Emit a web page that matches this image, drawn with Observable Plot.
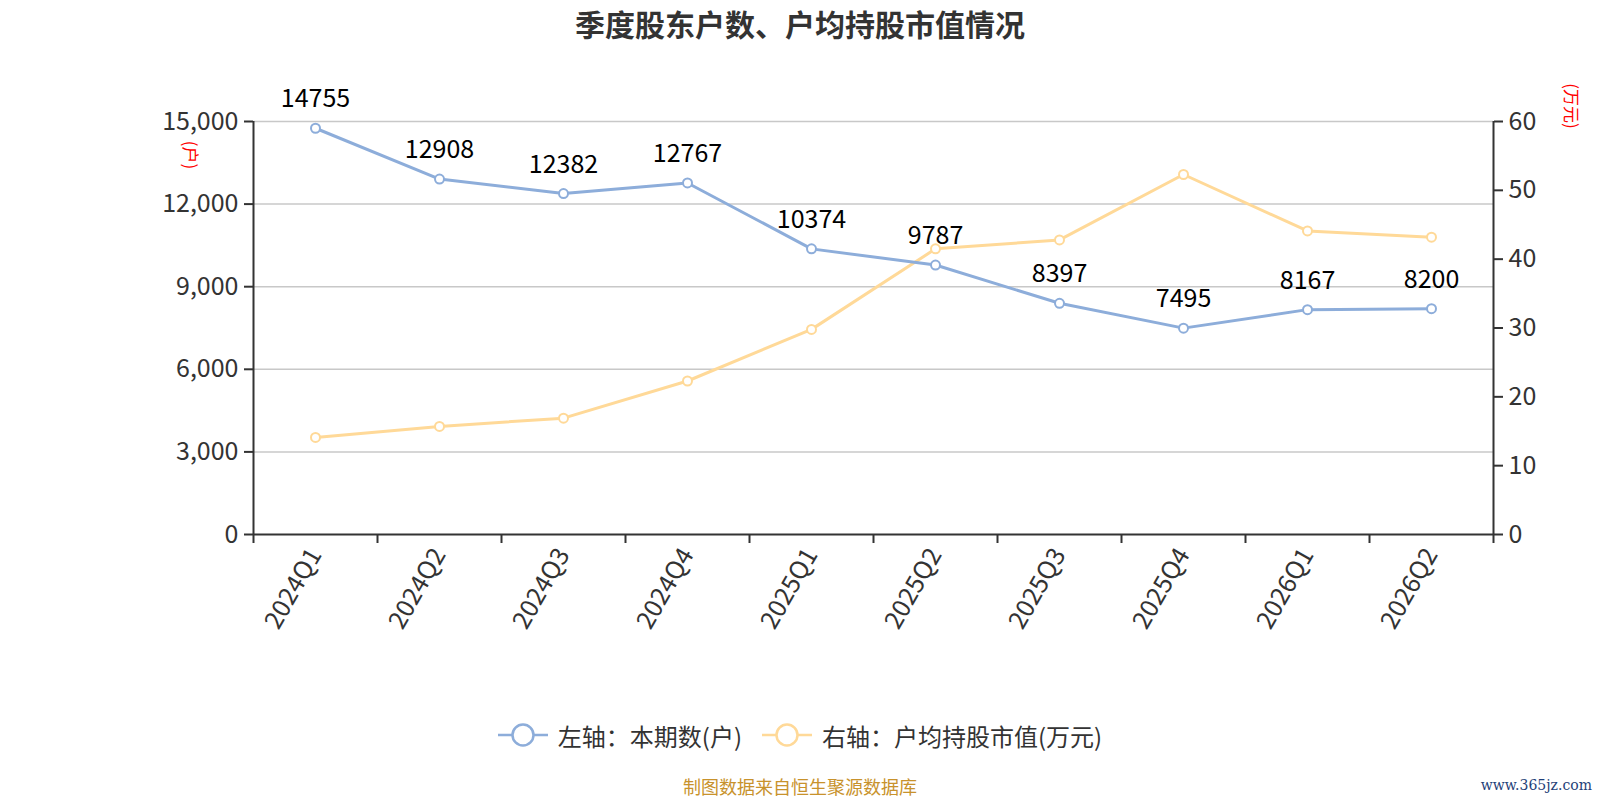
<!DOCTYPE html>
<html>
<head>
<meta charset="utf-8">
<script src="https://cdn.jsdelivr.net/npm/d3@7"></script>
<script src="https://cdn.jsdelivr.net/npm/@observablehq/plot@0.6"></script>
<style>
  body { margin: 0; background: #fff; }
  #wrap { position: relative; width: 1600px; height: 800px; font-family: "Noto Sans CJK SC", "Noto Sans", sans-serif; overflow: hidden; }
  #title { position: absolute; left: 0; top: 0; width: 1600px; height: 46px; line-height: 46px; text-align: center; font-size: 30px; font-weight: bold; color: #333; }
  #chart { position: absolute; left: 0; top: 60px; }
  .unit { position: absolute; color: #ff0000; font-size: 17px; white-space: nowrap; transform: translate(-50%, -50%) rotate(90deg); }
  #legend { position: absolute; left: 0; top: 715px; width: 1600px; height: 40px; display: flex; justify-content: center; align-items: center; font-size: 24px; color: #333; }
  #legend .item { display: flex; align-items: center; margin: 0 10px; }
  #legend svg { margin-right: 10px; }
  #caption { position: absolute; left: 0; top: 776px; width: 1600px; text-align: center; font-size: 18px; line-height: 20px; color: #c8922c; }
  #mark { position: absolute; right: 8px; top: 775px; font-family: "DejaVu Serif", serif; font-size: 14px; line-height: 20px; color: #1f3f78; white-space: nowrap; }
</style>
</head>
<body>
<div id="wrap">
  <div id="title">季度股东户数、户均持股市值情况</div>
  <div id="chart"></div>
  <div class="unit" style="left:191px; top:155px;">(户)</div>
  <div class="unit" style="left:1572px; top:106px;">(万元)</div>
  <div id="legend"></div>
  <div id="caption">制图数据来自恒生聚源数据库</div>
  <div id="mark">www.365jz.com</div>
</div>
<script>
const categories = ["2024Q1","2024Q2","2024Q3","2024Q4","2025Q1","2025Q2","2025Q3","2025Q4","2026Q1","2026Q2"];
const holders = [14755, 12908, 12382, 12767, 10374, 9787, 8397, 7495, 8167, 8200];
const avgValue = [14.1, 15.7, 16.9, 22.3, 29.8, 41.5, 42.8, 52.3, 44.1, 43.2];
const leftTicks = [0, 3000, 6000, 9000, 12000, 15000];
const rightTicks = [0, 10, 20, 30, 40, 50, 60];
const leftMax = 15000, rightMax = 60;
const seriesNames = ["左轴：本期数(户)", "右轴：户均持股市值(万元)"];
const blue = "#8dadda", yellow = "#ffd998";

const k = leftMax / rightMax;
const blueData = holders.map((v, i) => ({i, v}));
const yellowData = avgValue.map((v, i) => ({i, v, y: v * k}));

const plot = Plot.plot({
  width: 1600,
  height: 640,
  marginTop: 61,
  marginBottom: 166,
  marginLeft: 253,
  marginRight: 107,
  style: {fontFamily: '"Noto Sans CJK SC", "Noto Sans", sans-serif', background: "transparent", overflow: "visible"},
  x: {type: "linear", domain: [-0.5, categories.length - 0.5], axis: null},
  y: {domain: [0, leftMax], axis: null},
  marks: [
    Plot.gridY(leftTicks.slice(1), {stroke: "#c8c8c8", strokeOpacity: 1, strokeWidth: 1.5}),
    Plot.ruleY([0], {stroke: "#333", strokeWidth: 2}),
    Plot.ruleX([-0.5, categories.length - 0.5], {stroke: "#333", strokeWidth: 2}),
    Plot.axisY(leftTicks, {anchor: "left", tickSize: 9, tickPadding: 6, tickFormat: d3.format(","), fontSize: 25, stroke: "#333", fill: "#333", strokeWidth: 2, label: null}),
    Plot.axisY(rightTicks.map(v => v * k), {anchor: "right", tickSize: 9, tickPadding: 6, tickFormat: d => d / k, fontSize: 25, stroke: "#333", fill: "#333", strokeWidth: 2, label: null}),
    Plot.axisX(d3.range(-0.5, categories.length, 1), {anchor: "bottom", tickSize: 9, tickFormat: () => "", stroke: "#333", strokeWidth: 2, label: null}),
    Plot.axisX(d3.range(categories.length), {anchor: "bottom", tickSize: 0, tickPadding: 16, tickRotate: -60, tickFormat: i => categories[i], fontSize: 25, fill: "#333", label: null}),
    Plot.line(yellowData, {x: "i", y: "y", stroke: yellow, strokeWidth: 3}),
    Plot.line(blueData, {x: "i", y: "v", stroke: blue, strokeWidth: 3}),
    Plot.dot(yellowData, {x: "i", y: "y", r: 4.5, fill: "white", stroke: yellow, strokeWidth: 2}),
    Plot.dot(blueData, {x: "i", y: "v", r: 4.5, fill: "white", stroke: blue, strokeWidth: 2}),
    Plot.text(blueData, {x: "i", y: "v", text: d => String(d.v), dy: -29, fontSize: 25, fill: "#000", lineAnchor: "middle"})
  ]
});
document.getElementById("chart").appendChild(plot);

const legend = document.getElementById("legend");
[[seriesNames[0], blue], [seriesNames[1], yellow]].forEach(([name, color]) => {
  const item = document.createElement("div");
  item.className = "item";
  item.innerHTML = `<svg width="50" height="26" viewBox="0 0 50 26"><line x1="0" y1="13" x2="50" y2="13" stroke="${color}" stroke-width="2.5"/><circle cx="25" cy="13" r="10.5" fill="white" stroke="${color}" stroke-width="2.5"/></svg><span>${name}</span>`;
  legend.appendChild(item);
});
</script>
</body>
</html>
